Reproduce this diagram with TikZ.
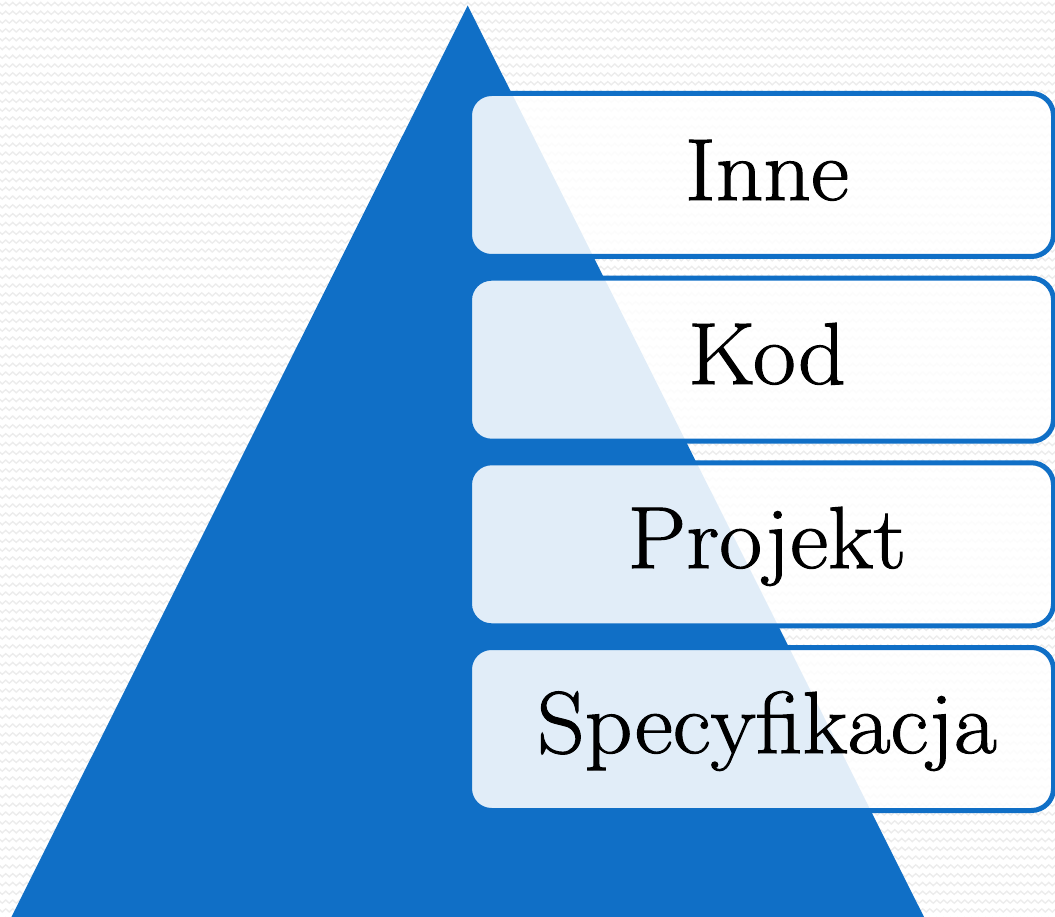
\documentclass[tikz,border=0pt]{standalone}
\usepackage{fontspec}
\newfontfamily\layerfont{Latin Modern Roman}[FakeStretch=1.06, FakeBold=1.2]
\usetikzlibrary{decorations.pathmorphing}
\definecolor{pyrblue}{RGB}{16,111,198}
\definecolor{wavegray}{RGB}{236,236,236}
\tikzset{
  layerbox/.style={draw=pyrblue, line width=5pt, fill=white, fill opacity=0.88,
    rounded corners=22pt, minimum width=584pt, minimum height=163pt,
    inner sep=0pt, anchor=north west},
  layertext/.style={font=\layerfont\fontsize{88}{100}\selectfont, text=black,
    anchor=base, inner sep=0pt},
  wave/.style={draw=wavegray, line width=1.4pt,
    decorate, decoration={zigzag, segment length=7pt, amplitude=1.6pt}}
}
\begin{document}
\begin{tikzpicture}[x=1pt, y=-1pt]
  \useasboundingbox (0,0) rectangle (1055,917);
  \begin{scope}
    \clip (0,0) rectangle (1055,917);
    % faint wavy background texture
    \foreach \r in {0,...,104} {
      \draw[wave] (-10,{4+8.8*\r}) -- (1070,{4+8.8*\r});
    }
    % pyramid
    \fill[pyrblue] (467.7,5.5) -- (924,917) -- (11.4,917) -- cycle;
    % layer boxes
    \node[layerbox] (b1) at (467,91) {};
    \node[layerbox] (b2) at (467,275.7) {};
    \node[layerbox] (b3) at (467,460.3) {};
    \node[layerbox] (b4) at (467,645) {};
  \end{scope}
  % labels
  \node[layertext] (t1) at (767,200) {Inne};
  \node[layertext] (t2) at (767,384) {Kod};
  \node[layertext] (t3) at (767,568) {Projekt};
  \node[layertext] (t4) at (767,753) {Specyfikacja};
\end{tikzpicture}
\end{document}
